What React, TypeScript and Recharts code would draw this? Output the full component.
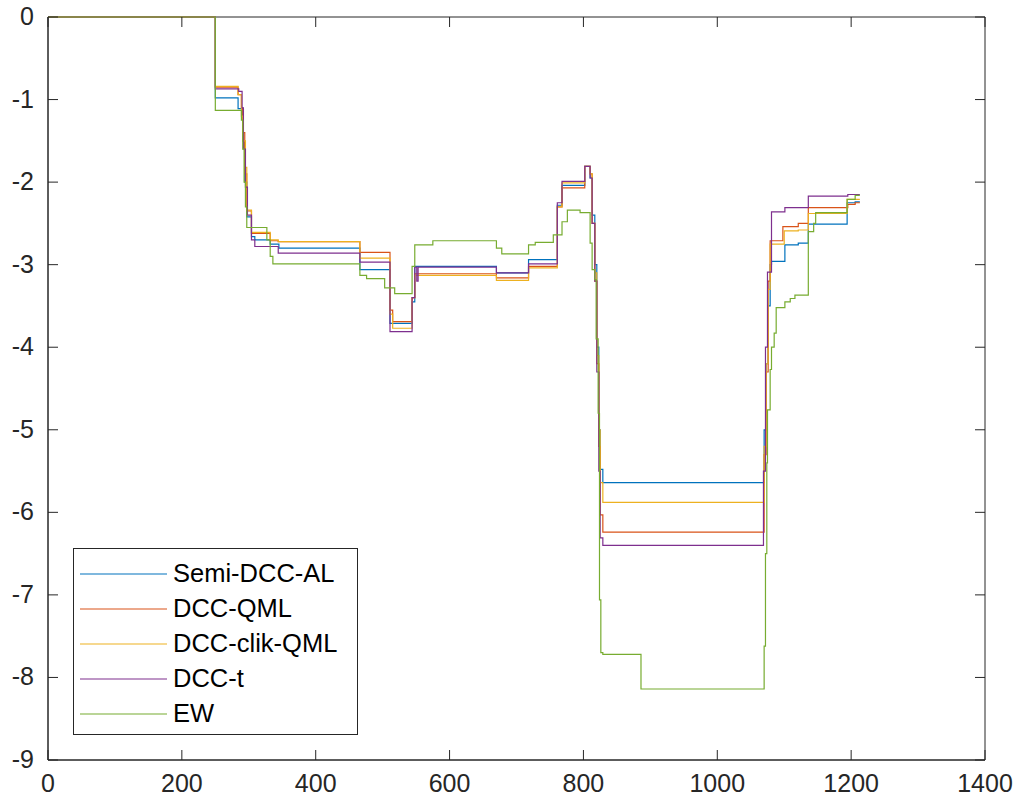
import { LineChart, Line, XAxis, YAxis, Legend, ReferenceArea } from "recharts";

// step breakpoints [x, value]
const SEMI_DCC_AL: [number, number][] = [
  [0, 0], [250, -0.98], [284, -1.11], [291, -1.5], [294, -2.0], [297, -2.42], [304, -2.66],
  [309, -2.7], [332, -2.75], [345, -2.8], [466, -3.06], [511, -3.71], [544, -3.45], [548, -3.02],
  [670, -3.1], [718, -2.94], [761, -2.28], [768, -2.04], [802, -1.81], [810, -1.95], [813, -2.4],
  [817, -3.0], [820, -4.0], [823, -5.0], [825, -5.48], [829, -5.64], [1070, -5.0], [1073, -4.2],
  [1076, -3.5], [1079, -3.0], [1081, -2.96], [1101, -2.76], [1121, -2.74], [1136, -2.51],
  [1194, -2.25], [1206, -2.24], [1213, -2.24],
];

const DCC_QML: [number, number][] = [
  [0, 0], [250, -0.85], [284, -0.94], [289, -1.1], [291, -1.4], [294, -1.9], [297, -2.35],
  [304, -2.62], [332, -2.71], [344, -2.72], [466, -2.85], [511, -3.55], [515, -3.69], [544, -3.4],
  [548, -3.11], [670, -3.16], [718, -3.02], [761, -2.3], [768, -2.07], [802, -1.81], [810, -1.9],
  [813, -2.5], [817, -3.2], [820, -4.2], [823, -5.2], [825, -6.03], [829, -6.24], [1070, -5.3],
  [1073, -4.3], [1076, -3.2], [1079, -2.71], [1098, -2.54], [1121, -2.5], [1136, -2.31],
  [1195, -2.27], [1206, -2.25], [1213, -2.25],
];

const DCC_CLIK_QML: [number, number][] = [
  [0, 0], [250, -0.84], [284, -0.94], [289, -1.2], [291, -1.5], [295, -1.82], [297, -2.34],
  [304, -2.61], [332, -2.7], [344, -2.72], [466, -2.92], [511, -3.6], [515, -3.77], [544, -3.4],
  [548, -3.13], [670, -3.19], [718, -3.04], [761, -2.3], [768, -2.01], [802, -1.81], [810, -1.9],
  [813, -2.5], [817, -3.1], [820, -4.1], [823, -5.0], [825, -5.64], [829, -5.88], [1070, -5.2],
  [1073, -4.2], [1076, -3.3], [1079, -2.75], [1100, -2.59], [1121, -2.58], [1136, -2.38],
  [1194, -2.21], [1213, -2.21],
];

const DCC_T: [number, number][] = [
  [0, 0], [250, -0.87], [285, -0.9], [290, -1.1], [292, -1.6], [295, -2.06], [298, -2.4],
  [304, -2.7], [309, -2.78], [344, -2.86], [466, -2.97], [511, -3.81], [544, -3.4], [548, -3.03],
  [551, -3.2], [553, -3.03], [670, -3.1], [718, -2.99], [761, -2.25], [768, -1.99], [802, -1.81],
  [810, -1.95], [813, -2.5], [817, -3.2], [820, -4.3], [823, -5.5], [825, -6.31], [829, -6.4],
  [1069, -5.5], [1072, -4.0], [1075, -3.09], [1081, -2.36], [1101, -2.31], [1136, -2.17],
  [1195, -2.15], [1213, -2.15],
];

const EW: [number, number][] = [
  [0, 0], [250, -1.13], [289, -1.25], [291, -1.6], [293, -2.0], [295, -2.3], [297, -2.55],
  [327, -2.7], [332, -2.9], [336, -2.99], [466, -3.13], [476, -3.17], [503, -3.28], [518, -3.35],
  [544, -3.02], [548, -2.76], [575, -2.71], [670, -2.8], [678, -2.87], [718, -2.76], [728, -2.73],
  [755, -2.64], [768, -2.48], [776, -2.34], [795, -2.37], [810, -2.74], [813, -3.06], [817, -3.18],
  [819, -3.9], [822, -4.8], [824, -7.06], [826, -7.7], [829, -7.72], [886, -8.14], [1070, -7.62],
  [1072, -6.5], [1074, -5.4], [1075, -4.76], [1079, -4.27], [1081, -4.0], [1085, -3.83],
  [1088, -3.52], [1101, -3.45], [1109, -3.41], [1116, -3.37], [1136, -2.6], [1144, -2.5],
  [1147, -2.37], [1194, -2.21], [1206, -2.16], [1213, -2.16],
];

const SERIES_NAMES = ["Semi-DCC-AL", "DCC-QML", "DCC-clik-QML", "DCC-t", "EW"];
const X_TICKS = [0, 200, 400, 600, 800, 1000, 1200, 1400];
const Y_TICKS = [0, -1, -2, -3, -4, -5, -6, -7, -8, -9];

const COLORS = ["#0072BD", "#D95319", "#EDB120", "#7E2F8E", "#77AC30"];
const AXIS = "#262626";
const FONT = '"Liberation Sans", Arial, Helvetica, sans-serif';
const PLOT = { left: 48, top: 17, right: 985, bottom: 760 };
const TICK_LEN = 10;

const toRows = (pts: [number, number][]) => pts.map(([x, y]) => ({ x, y }));
const seriesData = [SEMI_DCC_AL, DCC_QML, DCC_CLIK_QML, DCC_T, EW].map(toRows);

function XTick(props: any) {
  const { x, payload } = props;
  return (
    <g>
      <line x1={x} y1={PLOT.bottom} x2={x} y2={PLOT.bottom - TICK_LEN} stroke={AXIS} />
      <line x1={x} y1={PLOT.top} x2={x} y2={PLOT.top + TICK_LEN} stroke={AXIS} />
      <text x={x} y={PLOT.bottom + 32} textAnchor="middle" fill={AXIS} fontSize={25} fontFamily={FONT}>
        {payload.value}
      </text>
    </g>
  );
}

function YTick(props: any) {
  const { y, payload } = props;
  return (
    <g>
      <line x1={PLOT.left} y1={y} x2={PLOT.left + TICK_LEN} y2={y} stroke={AXIS} />
      <line x1={PLOT.right} y1={y} x2={PLOT.right - TICK_LEN} y2={y} stroke={AXIS} />
      <text x={34} y={y + 8} textAnchor="end" fill={AXIS} fontSize={25} fontFamily={FONT}>
        {payload.value}
      </text>
    </g>
  );
}

// legend drawn in series order (Recharts would sort it by name)
function LegendBox() {
  return (
    <div
      style={{
        width: 285,
        height: 187,
        boxSizing: "border-box",
        border: `1.5px solid ${AXIS}`,
        background: "#fff",
        paddingTop: 7,
        fontFamily: FONT,
        fontSize: 25.5,
        color: "#000",
      }}
    >
      {SERIES_NAMES.map((name, i) => (
        <div key={name} style={{ display: "flex", alignItems: "center", height: 35 }}>
          <svg width={99} height={10} style={{ flex: "none" }}>
            <line x1={6} y1={5} x2={93} y2={5} stroke={COLORS[i]} strokeWidth={1.2} />
          </svg>
          <span style={{ lineHeight: "35px", whiteSpace: "nowrap" }}>{name}</span>
        </div>
      ))}
    </div>
  );
}

export default function App() {
  return (
    <div style={{ width: 1021, height: 805, background: "#fff" }}>
      <style>{"body{margin:0}"}</style>
      <LineChart width={1021} height={805} margin={{ top: 17, right: 36, bottom: 0, left: 0 }}>
        <XAxis
          type="number"
          dataKey="x"
          domain={[0, 1400]}
          ticks={X_TICKS}
          height={45}
          stroke={AXIS}
          tickLine={false}
          tick={XTick}
          interval={0}
        />
        <YAxis
          type="number"
          dataKey="y"
          domain={[-9, 0]}
          ticks={Y_TICKS}
          width={48}
          stroke={AXIS}
          tickLine={false}
          tick={YTick}
          interval={0}
        />
        <ReferenceArea x1={0} x2={1400} y1={-9} y2={0} fill="none" stroke={AXIS} strokeWidth={1} ifOverflow="visible" />
        {seriesData.map((rows, i) => (
          <Line
            key={SERIES_NAMES[i]}
            data={rows}
            dataKey="y"
            name={SERIES_NAMES[i]}
            type="stepAfter"
            stroke={COLORS[i]}
            strokeWidth={1.2}
            dot={false}
            isAnimationActive={false}
          />
        ))}
        <Legend
          layout="vertical"
          align="center"
          verticalAlign="middle"
          content={LegendBox}
          wrapperStyle={{ position: "absolute", left: 73, top: 548, width: 285, height: 187 }}
        />
      </LineChart>
    </div>
  );
}
